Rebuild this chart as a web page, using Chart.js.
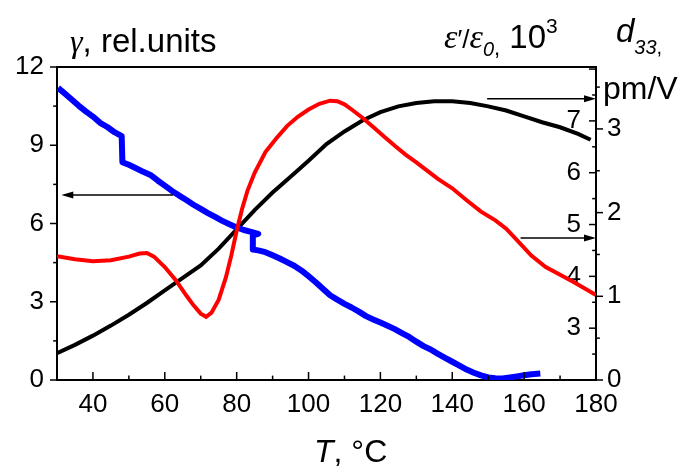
<!DOCTYPE html>
<html>
<head>
<meta charset="utf-8">
<script src="https://cdn.jsdelivr.net/npm/chart.js@4.4.1/dist/chart.umd.min.js"></script>
<style>
  html, body { margin: 0; padding: 0; background: #fff; }
</style>
</head>
<body>
<canvas id="grafico" width="689" height="468"></canvas>
<script>
// --- data ---
// gamma, rel. units (left axis)
const tempGamma = [30.3, 32, 34, 36, 38, 40, 42, 44, 46, 48, 48.2, 50, 52, 54, 56, 58, 60, 62, 64, 66, 68, 70, 72, 74, 76, 78, 80, 82, 84, 86, 84.5, 84.5, 86, 88, 90, 92, 94, 96, 98, 100, 102, 104, 106, 108, 110, 112, 114, 116, 118, 120, 122, 124, 126, 128, 130, 132, 134, 136, 138, 140, 142, 144, 146, 148, 150, 152, 154, 156, 158, 160, 162, 164.5];
const gammaVals = [11.2, 11.0, 10.76, 10.52, 10.3, 10.1, 9.86, 9.7, 9.5, 9.35, 8.35, 8.25, 8.12, 7.98, 7.86, 7.65, 7.45, 7.25, 7.07, 6.9, 6.72, 6.56, 6.4, 6.25, 6.1, 5.97, 5.85, 5.75, 5.68, 5.6, 5.55, 5.0, 4.97, 4.9, 4.78, 4.66, 4.52, 4.38, 4.2, 3.98, 3.75, 3.5, 3.25, 3.08, 2.92, 2.78, 2.62, 2.45, 2.32, 2.2, 2.08, 1.95, 1.8, 1.65, 1.47, 1.3, 1.17, 1.0, 0.85, 0.7, 0.55, 0.4, 0.28, 0.18, 0.1, 0.07, 0.06, 0.1, 0.14, 0.18, 0.22, 0.25];

// d33, pm/V (outer right axis)
const tempD33 = [30, 35, 40, 45, 50, 55, 60, 65, 70, 75, 80, 85, 90, 95, 100, 105, 110, 115, 120, 125, 130, 135, 140, 145, 150, 155, 160, 165, 170, 175, 178.5];
const d33Vals = [0.32, 0.42, 0.53, 0.65, 0.78, 0.92, 1.07, 1.22, 1.37, 1.57, 1.8, 2.03, 2.24, 2.43, 2.62, 2.82, 2.97, 3.1, 3.2, 3.27, 3.31, 3.33, 3.33, 3.31, 3.27, 3.22, 3.15, 3.08, 3.02, 2.94, 2.87];

// eps'/eps0, 10^3 (inner right axis)
const tempEps = [30, 35, 40, 45, 50, 53, 55, 57, 60, 63, 66, 68, 70, 71.5, 73, 75, 77, 78.5, 80, 81.5, 83, 85, 88, 91, 94, 97, 100, 103, 106, 108, 110, 112, 115, 118, 121, 124, 127, 130, 133, 136, 140, 144, 148, 152, 155, 158, 162, 166, 170, 174, 177, 180];
const epsVals = [4.39, 4.33, 4.29, 4.31, 4.38, 4.44, 4.45, 4.38, 4.18, 3.93, 3.63, 3.44, 3.28, 3.22, 3.3, 3.55, 3.98, 4.4, 4.88, 5.3, 5.65, 6.0, 6.4, 6.66, 6.9, 7.08, 7.22, 7.33, 7.39, 7.38, 7.32, 7.22, 7.06, 6.88, 6.7, 6.52, 6.35, 6.2, 6.04, 5.88, 5.7, 5.47, 5.25, 5.08, 4.92, 4.7, 4.4, 4.18, 4.03, 3.88, 3.76, 3.64];

// tick labels
const xTicks = [40, 60, 80, 100, 120, 140, 160, 180];
const gammaTicks = [0, 3, 6, 9, 12];
const epsTicks = [3, 4, 5, 6, 7];
const d33Ticks = [0, 1, 2, 3];

// arrows: [scale, x from, x to, y]
const arrows = [
    ['yGamma', 62.3, 31.2, 7.09],
    ['yD33', 149.7, 180, 3.36],
    ['yEps', 159, 180, 4.74]
];

const toPoints = (xs, ys) => xs.map((x, i) => ({ x: x, y: ys[i] }));
const fixedTicks = list => scale => { scale.ticks = list.map(v => ({ value: v })); };
const fonte = { family: '"Liberation Sans", Arial, sans-serif', size: 26 };

// tick marks (major + minor), drawn from the scales
function tickMarks(ctx, scale, step, len, dir) {
    ctx.lineWidth = 1.5;
    const n = Math.round((scale.max - scale.min) / step) + 1;
    for (let i = 0; i < n; i++) {
        const v = Math.round((scale.min + i * step) * 100) / 100;
        if (v > scale.max + 1e-6) break;
        const p = scale.getPixelForValue(v);
        const major = Math.abs(v / (step * 2) - Math.round(v / (step * 2))) < 1e-6;
        const l = major ? len : len * 0.55;
        ctx.beginPath();
        if (scale.isHorizontal()) {
            ctx.moveTo(p, scale.top); ctx.lineTo(p, scale.top - l * dir);
        } else {
            const x0 = scale.position === 'left' ? scale.right : scale.left;
            ctx.moveTo(x0, p); ctx.lineTo(x0 + l * dir, p);
        }
        ctx.stroke();
    }
}

function texto(ctx, partes, x, y) {
    for (const [t, font, dy] of partes) {
        ctx.font = font;
        ctx.fillText(t, x, y + (dy || 0));
        x += ctx.measureText(t).width;
    }
}

const moldura = {
    id: 'moldura',
    afterDraw(chart) {
        const ctx = chart.ctx;
        const a = chart.chartArea;
        const s = chart.scales;
        ctx.save();
        ctx.strokeStyle = '#000';
        ctx.fillStyle = '#000';
        // top frame line
        ctx.lineWidth = 2;
        ctx.beginPath(); ctx.moveTo(a.left, a.top); ctx.lineTo(a.right, a.top); ctx.stroke();

        tickMarks(ctx, s.x, 10, 8, 1);
        tickMarks(ctx, s.yGamma, 1.5, 7, -1);
        tickMarks(ctx, s.yEps, 0.5, 7, -1);
        tickMarks(ctx, s.yD33, 0.5, 7, 1);

        // arrows
        ctx.lineWidth = 1.5;
        for (const [id, x1, x2, yv] of arrows) {
            const px1 = s.x.getPixelForValue(x1);
            const px2 = s.x.getPixelForValue(x2);
            const py = s[id].getPixelForValue(yv);
            const d = Math.sign(px2 - px1);
            ctx.beginPath(); ctx.moveTo(px1, py); ctx.lineTo(px2 - d * 8, py); ctx.stroke();
            ctx.beginPath();
            ctx.moveTo(px2, py);
            ctx.lineTo(px2 - d * 12, py - 3.5);
            ctx.lineTo(px2 - d * 12, py + 3.5);
            ctx.closePath(); ctx.fill();
        }

        // axis titles
        ctx.textBaseline = 'alphabetic';
        ctx.textAlign = 'left';
        const sans = '"Liberation Sans", Arial, sans-serif';
        const serif = '"Liberation Serif", "Times New Roman", serif';
        texto(ctx, [['γ', 'italic 32px ' + serif], [', rel.units', '33px ' + sans]], 70, 52);
        texto(ctx, [['ε', 'italic 34px ' + serif], ['\u2032/', '26px ' + sans], ['ε', 'italic 34px ' + serif],
                    ['0', 'italic 20px ' + sans, 8], [',', '22px ' + sans, 7], [' 10', '33px ' + sans], ['3', '21px ' + sans, -15]], 444, 48);
        texto(ctx, [['d', 'italic 33px ' + sans], ['33', 'italic 20px ' + sans, 12], [',', '20px ' + sans, 12]], 616, 42);
        texto(ctx, [['pm/V', '32px ' + sans]], 603, 99);
        texto(ctx, [['T', 'italic 32px ' + sans], [', °C', '32px ' + sans]], 314, 462);
        ctx.restore();
    }
};

const ctx = document.getElementById('grafico').getContext('2d');

const config = {
    type: 'line',
    data: {
        datasets: [
            {
                label: 'eps',
                data: toPoints(tempEps, epsVals),
                yAxisID: 'yEps',
                borderColor: '#ff0000',
                borderWidth: 4,
                order: 0
            },
            {
                label: 'gamma',
                data: toPoints(tempGamma, gammaVals),
                yAxisID: 'yGamma',
                borderColor: '#0000ff',
                borderWidth: 6,
                borderJoinStyle: 'round',
                order: 1
            },
            {
                label: 'd33',
                data: toPoints(tempD33, d33Vals),
                yAxisID: 'yD33',
                borderColor: '#000000',
                borderWidth: 4,
                order: 2
            }
        ]
    },
    options: {
        responsive: false,
        animation: false,
        devicePixelRatio: 1,
        layout: { padding: { top: 67, left: 0, right: 0, bottom: 0 } },
        elements: { point: { radius: 0 }, line: { tension: 0, fill: false } },
        plugins: { legend: { display: false }, tooltip: { enabled: false } },
        scales: {
            x: {
                type: 'linear',
                position: 'bottom',
                min: 30, max: 180,
                afterBuildTicks: fixedTicks(xTicks),
                afterFit: sc => { sc.height = 88; },
                grid: { display: false, drawTicks: false },
                border: { display: true, color: '#000', width: 2 },
                ticks: { font: fonte, color: '#000', padding: 9, maxRotation: 0 }
            },
            yGamma: {
                type: 'linear',
                position: 'left',
                min: 0, max: 12,
                afterBuildTicks: fixedTicks(gammaTicks),
                afterFit: sc => { sc.width = 57; },
                grid: { display: false, drawTicks: false },
                border: { display: true, color: '#000', width: 2 },
                ticks: { font: fonte, color: '#000', padding: 13 }
            },
            yEps: {
                type: 'linear',
                position: 'right',
                min: 2, max: 8.04,
                afterBuildTicks: fixedTicks(epsTicks),
                afterFit: sc => { sc.width = 0; },
                grid: { display: false, drawTicks: false },
                border: { display: true, color: '#000', width: 2 },
                ticks: { font: fonte, color: '#000', padding: -15, mirror: true }
            },
            yD33: {
                type: 'linear',
                position: 'right',
                min: 0, max: 3.74,
                afterBuildTicks: fixedTicks(d33Ticks),
                afterFit: sc => { sc.width = 93; },
                grid: { display: false, drawTicks: false },
                border: { display: false },
                ticks: { font: fonte, color: '#000', padding: 11 }
            }
        }
    },
    plugins: [moldura]
};

new Chart(ctx, config);
</script>
</body>
</html>
